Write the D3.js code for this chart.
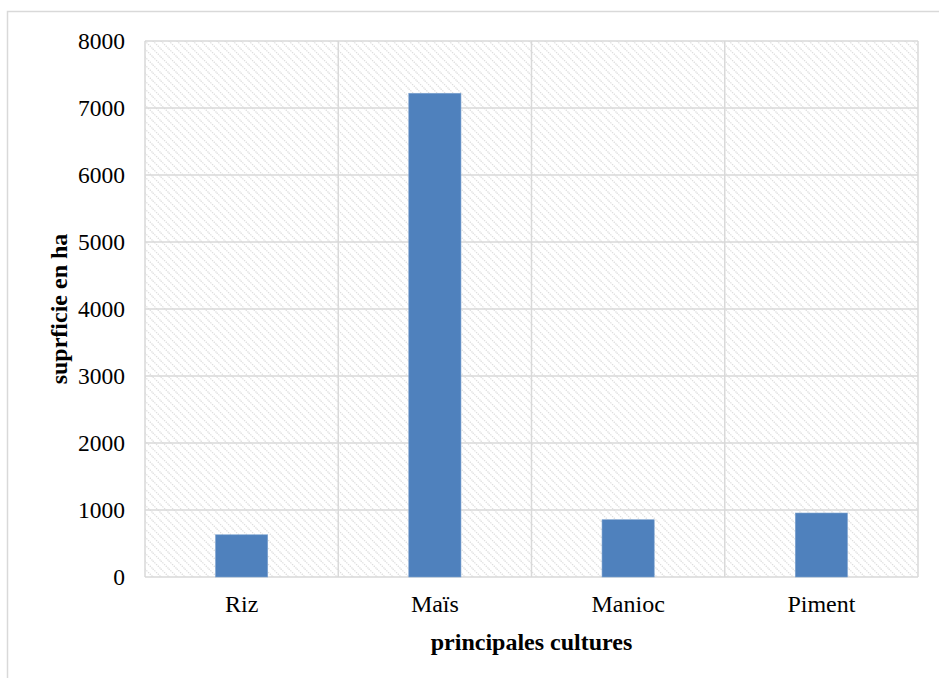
<!DOCTYPE html>
<meta charset="utf-8">
<script src="https://d3js.org/d3.v7.min.js"></script>
<title>principales cultures</title>
<style>
  body { margin: 0; background: white; }
  text { font-family: "Liberation Serif", "Times New Roman", serif; fill: #000; }
</style>
<div id="chart"></div>
<script>
// data
var cultures = ["Riz", "Maïs", "Manioc", "Piment"];
var surfaces = [630, 7220, 855, 955];
var yTicks = [0, 1000, 2000, 3000, 4000, 5000, 6000, 7000, 8000];

var W = 939, H = 678;
var margin = {top: 41, right: 21, bottom: 101, left: 145},
    width = W - margin.left - margin.right,
    height = H - margin.top - margin.bottom;

var svg = d3.select("#chart").append("svg")
    .attr("width", W)
    .attr("height", H);

// outer chart frame (runs off the right and bottom)
svg.append("rect")
    .attr("x", 7.5).attr("y", 11.5)
    .attr("width", W + 20).attr("height", H + 20)
    .attr("fill", "none")
    .attr("stroke", "#d9d9d9")
    .attr("stroke-width", 1.5);

// hatch pattern for plot area
var defs = svg.append("defs");
var pat = defs.append("pattern")
    .attr("id", "hatch")
    .attr("patternUnits", "userSpaceOnUse")
    .attr("width", 8).attr("height", 8);
pat.append("path")
    .attr("d", "M-2,-2 L10,10 M-2,6 L2,10 M6,-2 L10,2")
    .attr("stroke", "#dedede")
    .attr("stroke-width", 1.3)
    .attr("stroke-dasharray", "1.4,1");

var g = svg.append("g")
    .attr("transform", "translate(" + margin.left + "," + margin.top + ")");

var x = d3.scaleBand()
    .domain(cultures)
    .range([0, width])
    .paddingInner(0.73)
    .paddingOuter(0.365);

var xCat = d3.scaleBand()
    .domain(cultures)
    .range([0, width]);

var y = d3.scaleLinear()
    .domain([0, 8000])
    .range([height, 0]);

g.append("rect")
    .attr("width", width).attr("height", height)
    .attr("fill", "url(#hatch)");

// horizontal gridlines
g.append("g")
  .selectAll("line")
  .data(yTicks)
  .enter().append("line")
    .attr("x1", 0).attr("x2", width)
    .attr("y1", function(d) { return y(d); })
    .attr("y2", function(d) { return y(d); })
    .attr("stroke", "#d9d9d9")
    .attr("stroke-width", 1.5);

// vertical gridlines at category edges
var edges = cultures.map(function(c) { return xCat(c); }).concat([width]);
g.append("g")
  .selectAll("line")
  .data(edges)
  .enter().append("line")
    .attr("x1", function(d) { return d; })
    .attr("x2", function(d) { return d; })
    .attr("y1", 0).attr("y2", height)
    .attr("stroke", "#d9d9d9")
    .attr("stroke-width", 1.5);

// bars
g.append("g")
  .selectAll("rect")
  .data(surfaces)
  .enter().append("rect")
    .attr("x", function(d, i) { return x(cultures[i]); })
    .attr("y", function(d) { return y(d); })
    .attr("width", x.bandwidth())
    .attr("height", function(d) { return height - y(d); })
    .attr("fill", "#4f81bd")
    .attr("stroke", "#7ea3d0")
    .attr("stroke-width", 0.6);

// y axis labels
var yAxis = g.append("g")
    .call(d3.axisLeft(y).tickValues(yTicks).tickSize(0).tickPadding(20).tickFormat(d3.format("d")));
yAxis.select(".domain").remove();
yAxis.selectAll("text")
    .style("font-family", "Liberation Serif, Times New Roman, serif")
    .style("font-size", "23.5px")
    .attr("fill", "#000");

// x axis labels
var xAxis = g.append("g")
    .attr("transform", "translate(0," + height + ")")
    .call(d3.axisBottom(xCat).tickSize(0).tickPadding(18));
xAxis.select(".domain").remove();
xAxis.selectAll("text")
    .style("font-family", "Liberation Serif, Times New Roman, serif")
    .style("font-size", "24px")
    .attr("fill", "#000");

// axis titles
svg.append("text")
    .attr("x", margin.left + width / 2)
    .attr("y", 650)
    .attr("text-anchor", "middle")
    .style("font-size", "24px")
    .style("font-weight", "bold")
    .text("principales cultures");

svg.append("text")
    .attr("transform", "translate(67," + (margin.top + height / 2) + ") rotate(-90)")
    .attr("text-anchor", "middle")
    .style("font-size", "24px")
    .style("font-weight", "bold")
    .text("suprficie en ha");
</script>
